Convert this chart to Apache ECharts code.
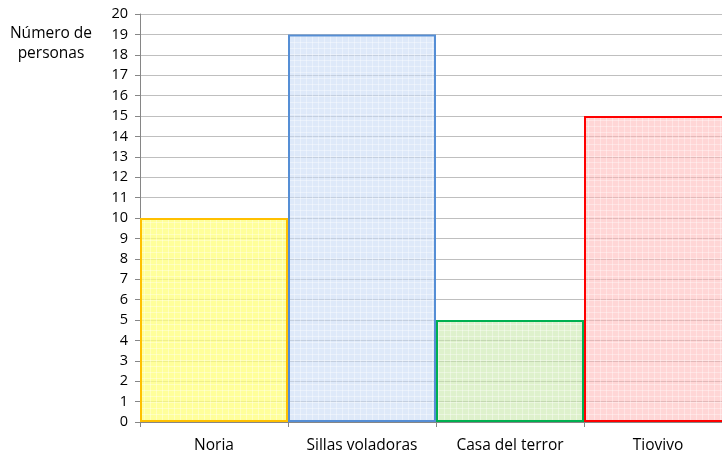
<!DOCTYPE html>
<html><head><meta charset="utf-8">
<script src="https://cdn.jsdelivr.net/npm/echarts@6/dist/echarts.min.js"></script>
<style>html,body{margin:0;padding:0;background:#fff;overflow:hidden;width:722px;height:454px}#c{width:732px;height:454px}</style>
</head><body><div id="c"></div>
<script>
const categories = ['Noria', 'Sillas voladoras', 'Casa del terror', 'Tiovivo'];
const values = [10, 19, 5, 15];
const yTicks = {min: 0, max: 20, interval: 1};
const fills = ['rgba(255,255,120,0.75)', 'rgba(200,218,245,0.6)', 'rgba(200,232,170,0.6)', 'rgba(255,180,180,0.55)'];
const borders = ['#FFC000', '#558ED5', '#00B050', '#FF0000'];

function pattern(base){
  const c = document.createElement('canvas');
  c.width = 6; c.height = 6;
  const g = c.getContext('2d');
  g.fillStyle = base; g.fillRect(0,0,6,6);
  g.fillStyle = 'rgba(255,255,255,0.35)';
  g.fillRect(0,0,6,1); g.fillRect(0,0,1,6);
  return c;
}

const chart = echarts.init(document.getElementById('c'), null, {renderer:'canvas'});
const font = '"Open Sans", "Noto Sans", sans-serif';
chart.setOption({
  animation: false,
  grid: {left: 140, right: 0, top: 14, bottom: 31, containLabel: false},
  xAxis: {
    type: 'category', data: categories,
    axisLine: {show: true, lineStyle: {color: '#868686', width: 1}},
    axisTick: {show: true, alignWithLabel: false, length: 5, lineStyle: {color: '#868686'}},
    axisLabel: {color: '#000', fontSize: 15.5, fontFamily: font, margin: 16},
    splitLine: {show: false}
  },
  yAxis: {
    type: 'value', min: yTicks.min, max: yTicks.max, interval: yTicks.interval,
    axisLine: {show: true, lineStyle: {color: '#868686', width: 1}},
    axisTick: {show: true, length: 5, lineStyle: {color: '#868686'}},
    axisLabel: {color: '#000', fontSize: 14.5, fontFamily: font, margin: 12},
    splitLine: {show: true, lineStyle: {color: '#BFBFBF', width: 1}}
  },
  graphic: [{
    type: 'text', x: 51, y: 24,
    style: {text: 'Número de\npersonas', fill: '#000', font: '15.5px ' + font, align: 'center', verticalAlign: 'top', lineHeight: 20}
  }],
  series: [{
    type: 'bar',
    barCategoryGap: '0%',
    data: values.map((v, i) => ({
      value: v,
      itemStyle: {
        color: {image: pattern(fills[i]), repeat: 'repeat'},
        borderColor: borders[i], borderWidth: 2
      }
    }))
  }]
});
</script></body></html>
